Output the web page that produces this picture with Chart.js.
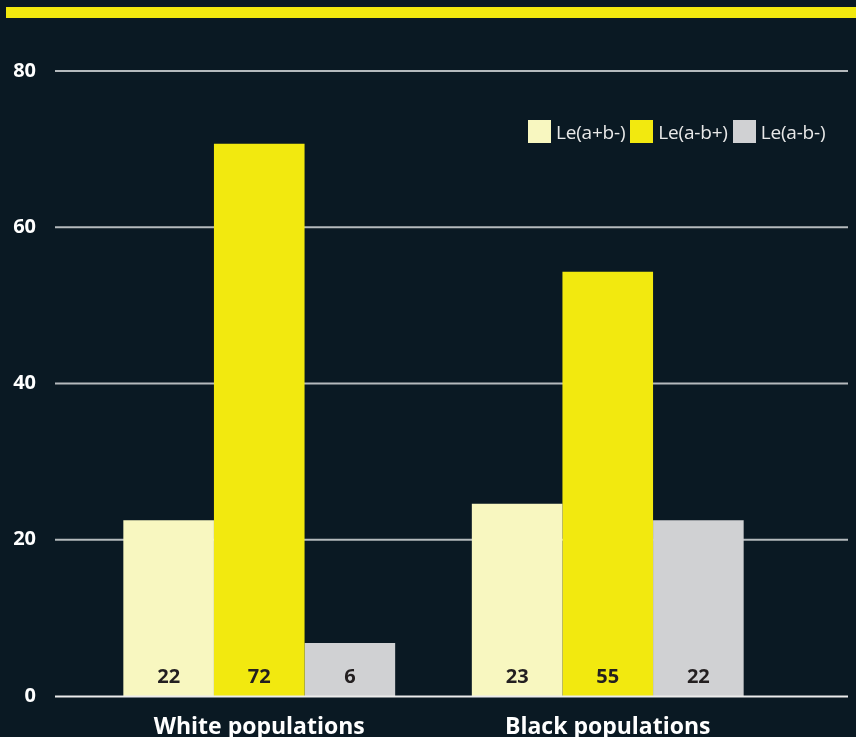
<!DOCTYPE html>
<html>
<head>
<meta charset="utf-8">
<title>Kell blood group phenotypes</title>
<script src="https://cdn.jsdelivr.net/npm/chart.js@4.4.1/dist/chart.umd.min.js"></script>
<style>
    html, body { margin: 0; padding: 0; background: #0a1923; overflow: hidden; }
    #wrap { position: relative; width: 856px; height: 737px; overflow: hidden; }
    #topbar { position: absolute; left: 6px; right: 0; top: 7px; height: 11px; background: #f2e90f; }
    #chartBox { position: absolute; left: 0; top: 0; width: 856px; height: 760px; }
    #legend { position: absolute; top: 120px; left: 528px; display: flex; font: 19px "Open Sans", sans-serif; color: #e8e8e8; }
    .item { display: flex; align-items: flex-start; margin-right: 5px; }
    .swatch { width: 23px; height: 23px; margin-right: 5px; }
    .item span { position: relative; top: 1px; line-height: 23px; letter-spacing: -0.2px; }
</style>
</head>
<body>
<div id="wrap">
    <div id="topbar"></div>
    <div id="chartBox"><canvas id="chart"></canvas></div>
    <div id="legend"></div>
</div>
<script>
// Categories and series
const categories = ['White populations', 'Black populations'];
const seriesNames = ['Le(a+b-)', 'Le(a-b+)', 'Le(a-b-)'];
const seriesColors = ['#f8f7c0', '#f2e90f', '#d0d1d3'];

// Bar heights as drawn in the picture
const aPlusBMinus = [22.5, 24.6];
const aMinusBPlus = [70.7, 54.3];
const aMinusBMinus = [6.8, 22.5];

// Numbers printed at the foot of each bar
const aPlusBMinusLabels = [22, 23];
const aMinusBPlusLabels = [72, 55];
const aMinusBMinusLabels = [6, 22];

// Y axis ticks
const yTicks = [0, 20, 40, 60, 80];

const seriesValues = [aPlusBMinus, aMinusBPlus, aMinusBMinus];
const seriesLabels = [aPlusBMinusLabels, aMinusBPlusLabels, aMinusBMinusLabels];

// Gridlines run wider than the bar area
const gridLeft = 55;
const gridRight = 848;

const gridPlugin = {
    id: 'gridPlugin',
    beforeDatasetsDraw(chart) {
        const { ctx, scales: { y } } = chart;
        ctx.save();
        ctx.strokeStyle = '#b5babd';
        ctx.lineWidth = 2;
        yTicks.forEach((v) => {
            if (v === 0) return;
            const py = y.getPixelForValue(v);
            ctx.beginPath();
            ctx.moveTo(gridLeft, py);
            ctx.lineTo(gridRight, py);
            ctx.stroke();
        });
        ctx.restore();
    },
    afterDatasetsDraw(chart) {
        const { ctx, scales: { y } } = chart;
        const base = y.getPixelForValue(0);
        ctx.save();
        // Zero line
        ctx.strokeStyle = '#ececec';
        ctx.lineWidth = 2;
        ctx.beginPath();
        ctx.moveTo(gridLeft, base + 0.5);
        ctx.lineTo(gridRight, base + 0.5);
        ctx.stroke();

        // Value labels at the foot of the bars
        ctx.fillStyle = '#231f20';
        ctx.font = 'bold 20px "Open Sans", sans-serif';
        ctx.textAlign = 'center';
        ctx.textBaseline = 'middle';
        chart.data.datasets.forEach((ds, i) => {
            const meta = chart.getDatasetMeta(i);
            meta.data.forEach((bar, j) => {
                ctx.fillText(String(seriesLabels[i][j]), bar.x, base - 19);
            });
        });
        ctx.restore();
    }
};

const chart = new Chart(document.getElementById('chart'), {
    type: 'bar',
    data: {
        labels: categories,
        datasets: seriesNames.map((name, i) => ({
            label: name,
            data: seriesValues[i],
            backgroundColor: seriesColors[i],
            borderWidth: 0,
            categoryPercentage: 0.78,
            barPercentage: 1.0
        }))
    },
    options: {
        responsive: true,
        maintainAspectRatio: false,
        animation: false,
        layout: { padding: { left: 0, right: 74, top: 71, bottom: 0 } },
        plugins: {
            legend: { display: false },
            tooltip: { enabled: false }
        },
        scales: {
            x: {
                grid: { display: false },
                border: { display: false },
                ticks: {
                    color: '#ffffff',
                    font: { family: '"Open Sans", sans-serif', size: 23, weight: 'bold' },
                    padding: 10,
                    maxRotation: 0
                },
                afterFit(scale) { scale.height = 64; }
            },
            y: {
                min: 0,
                max: 80,
                grid: { display: false, drawTicks: false },
                border: { display: false },
                ticks: {
                    stepSize: 20,
                    color: '#ffffff',
                    font: { family: '"Open Sans", sans-serif', size: 20, weight: 'bold' },
                    padding: 49
                },
                afterFit(scale) { scale.width = 85; }
            }
        }
    },
    plugins: [gridPlugin]
});

// Legend built from the series arrays
const legend = document.getElementById('legend');
seriesNames.forEach((name, i) => {
    const item = document.createElement('div');
    item.className = 'item';
    const sw = document.createElement('div');
    sw.className = 'swatch';
    sw.style.background = seriesColors[i];
    const txt = document.createElement('span');
    txt.textContent = name;
    item.appendChild(sw);
    item.appendChild(txt);
    legend.appendChild(item);
});
</script>
</body>
</html>
